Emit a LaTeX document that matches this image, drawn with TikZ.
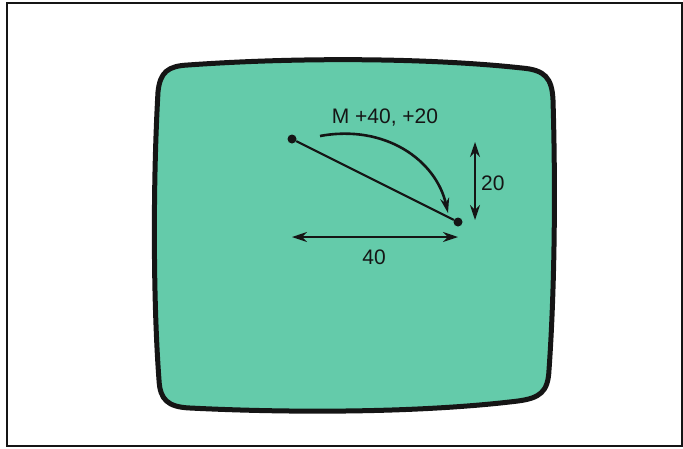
\documentclass[tikz,border=0pt]{standalone}
\usepackage{fontspec}
\setmainfont{Liberation Sans}
\usetikzlibrary{arrows.meta, positioning}
\definecolor{ScreenGreen}{HTML}{64CBAA}
\definecolor{Ink}{HTML}{151515}

\begin{document}
\begin{tikzpicture}[
    x=1pt, y=-1pt,
    dot/.style={circle, fill=Ink, inner sep=0pt, minimum size=9pt},
    move/.style={-{Stealth[length=15pt, width=9pt]}, line width=2.6pt, Ink},
    dim/.style={{Stealth[length=15pt, width=10pt]}-{Stealth[length=15pt, width=10pt]}, line width=1.5pt, Ink},
    lab/.style={font=\fontsize{21}{24}\selectfont, text=Ink, inner sep=1pt}
  ]
    \useasboundingbox (0,0) rectangle (683,448);
    % frame
    \draw[line width=1.3pt, Ink] (7,3) rectangle (682,446);

    % screen
    \draw[line width=5pt, Ink, fill=ScreenGreen]
      (188,65) .. controls (300,57) and (430,58) .. (522,68)
      .. controls (545,70) and (552,78) .. (553,100)
      .. controls (556,200) and (554,300) .. (549,370)
      .. controls (548,392) and (540,398) .. (518,401)
      .. controls (420,413) and (290,413) .. (190,408)
      .. controls (168,407) and (160,400) .. (159,380)
      .. controls (153,300) and (153,180) .. (158,92)
      .. controls (160,72) and (168,66) .. (188,65) -- cycle;

    % points
    \node[dot] (from) at (292,139) {};
    \node[dot] (to)   at (458,222) {};
    \draw[line width=2.2pt, Ink] (from) -- (to);

    % move arc
    \coordinate (arcA) at (320,136);
    \coordinate (arcB) at (448,213);
    \draw[move] (arcA) .. controls (385,124) and (436,160) .. (arcB);
    \node[lab] (mlab) at (385,118) {M +40, +20};

    % dimensions
    \coordinate (h1) at (292,237);
    \coordinate (h2) at (458,237);
    \draw[dim] (h1) -- (h2);
    \node[lab] (xlab) at (374,257) {40};

    \coordinate (v1) at (475,142);
    \coordinate (v2) at (475,220);
    \draw[dim] (v1) -- (v2);
    \node[lab, anchor=west] (ylab) at (480,183) {20};
\end{tikzpicture}
\end{document}
